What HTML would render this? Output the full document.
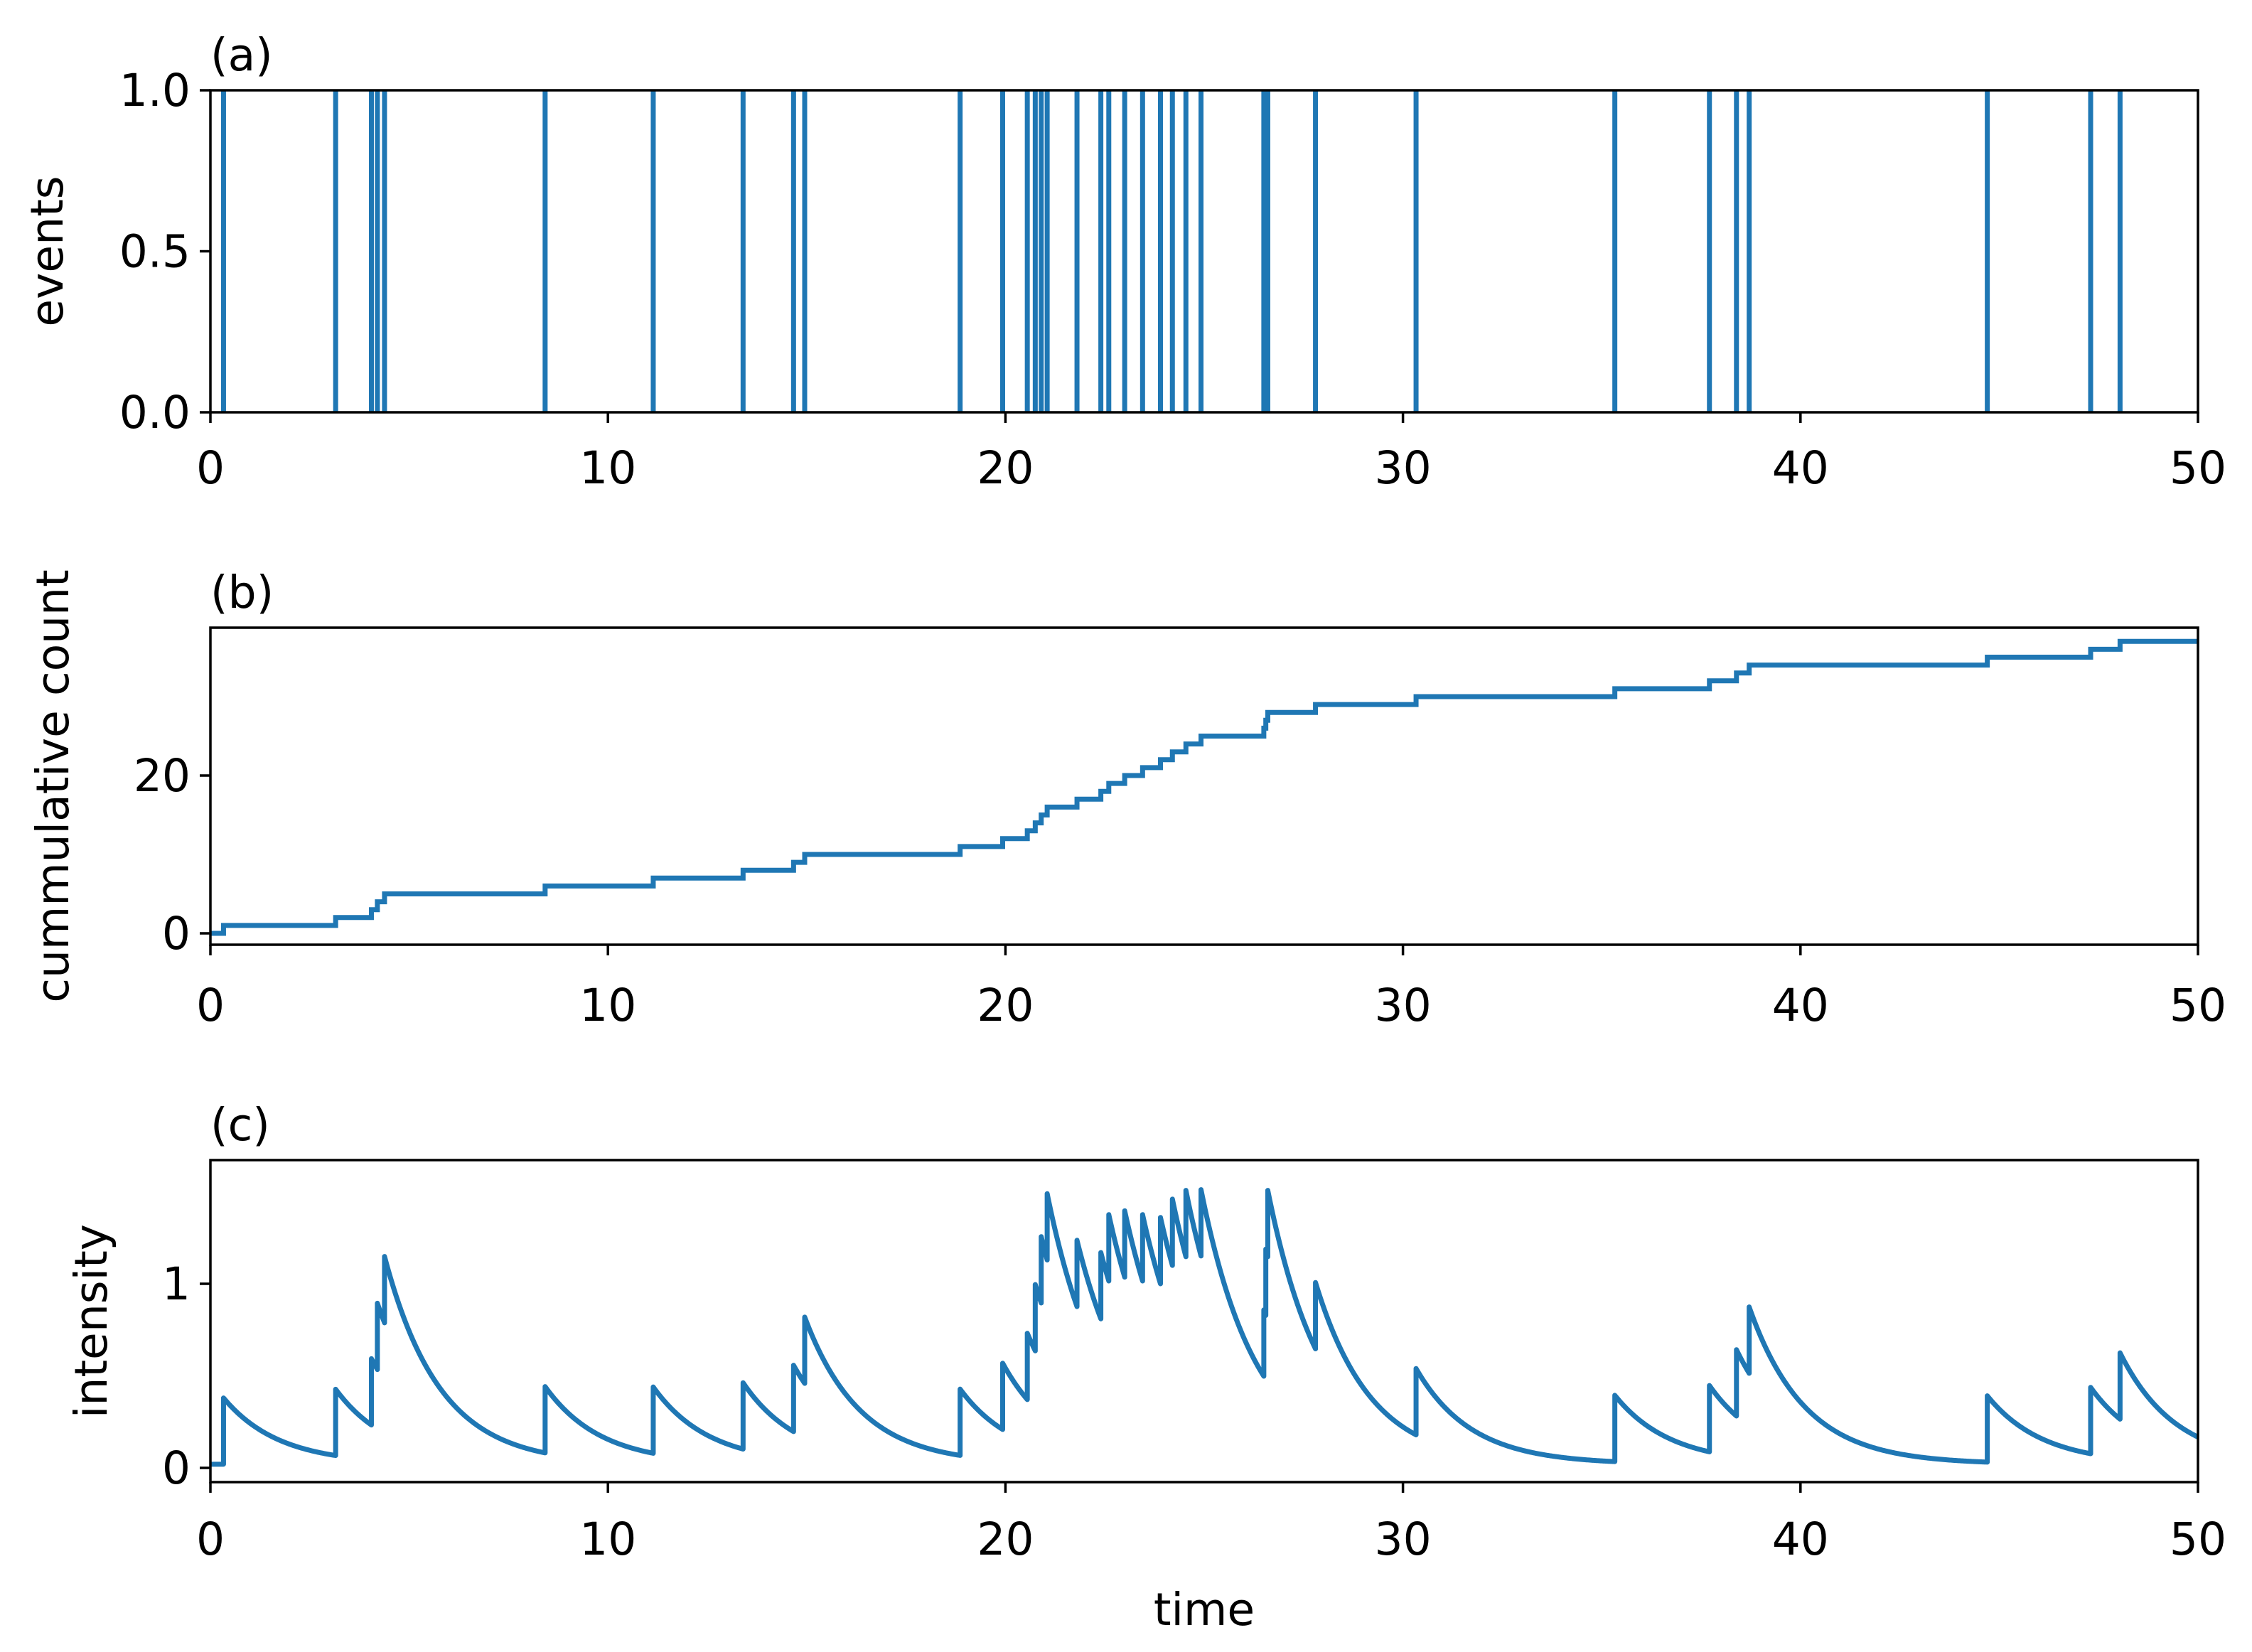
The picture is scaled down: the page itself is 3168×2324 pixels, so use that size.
<!DOCTYPE html>
<html><head><meta charset="utf-8"><style>
html,body{margin:0;padding:0;background:#fff;}
svg{display:block;font-family:"DejaVu Sans","Liberation Sans",sans-serif;}
</style></head><body>
<svg id="fig" width="3168" height="2324" viewBox="0 0 3168 2324" xmlns="http://www.w3.org/2000/svg"></svg>
<script>
const eventTimes = [0.33,3.15,4.05,4.2,4.38,8.42,11.14,13.4,14.67,14.95,18.86,19.93,20.55,20.75,20.9,21.05,21.8,22.4,22.6,23.0,23.45,23.9,24.2,24.54,24.92,26.5,26.55,26.6,27.8,30.33,35.33,37.71,38.39,38.71,44.7,47.3,48.04];
const xTicks = [0,10,20,30,40,50];
const aTicks = ["0.0","0.5","1.0"];
const aTickVals = [0,0.5,1];
const bTickVals = [0,20];
const cTickVals = [0,1];
const hawkesParams = [0.02,0.36,0.72]; // mu, alpha, beta

const NS="http://www.w3.org/2000/svg";
const svg=document.getElementById('fig');
function el(tag,attrs,parent){const e=document.createElementNS(NS,tag);for(const k in attrs)e.setAttribute(k,attrs[k]);(parent||svg).appendChild(e);return e;}
const X0=296,X1=3092;
const xs=t=>X0+(t/50)*(X1-X0);
const BLUE="#1f77b4";
const FS=63;

function panel(name,top,bot,ymin,ymax,ticks,tickLabels,ylabel,ylabelX,letter,xlabelY){
  const g=el('g',{});
  
  
  const ys=v=>bot-(v-ymin)/(ymax-ymin)*(bot-top);
  const clipId='clip-'+name;
  const cp=el('clipPath',{id:clipId},g);el('rect',{x:X0,y:top,width:X1-X0,height:bot-top},cp);
  const plot=el('g',{'clip-path':'url(#'+clipId+')'},g);
  
  
  xTicks.forEach(v=>{
    el('line',{x1:xs(v),x2:xs(v),y1:bot,y2:bot+15,stroke:'#000','stroke-width':3.5},g);
    const t=el('text',{x:xs(v),y:xlabelY,'font-size':FS,'text-anchor':'middle',fill:'#000'},g);
    
    
    t.textContent=v;
  });
  ticks.forEach((v,i)=>{
    el('line',{x1:X0-15,x2:X0,y1:ys(v),y2:ys(v),stroke:'#000','stroke-width':3.5},g);
    const t=el('text',{x:X0-28,y:ys(v)+22,'font-size':FS,'text-anchor':'end',fill:'#000'},g);
    
    
    t.textContent=tickLabels[i];
  });
  const yl=el('text',{x:ylabelX,y:(top+bot)/2,'font-size':FS,'text-anchor':'middle',fill:'#000',transform:`rotate(-90 ${ylabelX} ${(top+bot)/2})`},g);
  
  
  yl.textContent=ylabel;
  const lt=el('text',{x:X0,y:top-28,'font-size':FS,fill:'#000'},g);
  
  
  lt.textContent=letter;
  return {g,plot,ys,frame:()=>{const r=el('rect',{x:X0,y:top,width:X1-X0,height:bot-top,fill:'none',stroke:'#000','stroke-width':3.5},g);}};
}

// Panel a
const pa=panel('events-panel',127,580,0,1,aTickVals,aTicks,'events',88,'(a)',680);
eventTimes.forEach(t=>{
  const l=el('line',{x1:xs(t),x2:xs(t),y1:pa.ys(0),y2:pa.ys(1),stroke:BLUE,'stroke-width':7},pa.plot);
  
  
});
pa.frame();

// Panel b
const bTop=883,bBot=1329;
const b0=1313,b20=1091;const per=(b0-b20)/20;
const bymin=-(bBot-b0)/per, bymax=(b0-bTop)/per;
const pb=panel('cumulative-panel',bTop,bBot,bymin,bymax,bTickVals,bTickVals.map(String),'cummulative count',96,'(b)',1436);
let d=`M${xs(0)},${pb.ys(0)}`;
eventTimes.forEach((t,i)=>{d+=` L${xs(t)},${pb.ys(i)} L${xs(t)},${pb.ys(i+1)}`;});
d+=` L${xs(50)},${pb.ys(eventTimes.length)}`;
const cl=el('path',{d,fill:'none',stroke:BLUE,'stroke-width':7},pb.plot);


pb.frame();

// Panel c
const cTop=1632,cBot=2085,c0=2065,c1=1806;const pc1=c0-c1;
const cymin=-(cBot-c0)/pc1, cymax=(c0-cTop)/pc1;
const pc=panel('intensity-panel',cTop,cBot,cymin,cymax,cTickVals,cTickVals.map(String),'intensity',150,'(c)',2187);
const [mu,alpha,beta]=hawkesParams;
function lam(t,incl){let s=mu;for(const e of eventTimes){if(e<t||(incl&&e===t))s+=alpha*Math.exp(-beta*(t-e));}return s;}
const tgrid=[];for(let i=0;i<=2000;i++)tgrid.push(i*50/2000);
eventTimes.forEach(e=>{tgrid.push(e);});
tgrid.sort((a,b)=>a-b);
let dc='';
tgrid.forEach(t=>{
  const isEv=eventTimes.includes(t);
  dc+=(dc?' L':'M')+xs(t)+','+pc.ys(lam(t,false));
  if(isEv)dc+=' L'+xs(t)+','+pc.ys(lam(t,true));
});
const il=el('path',{d:dc,fill:'none',stroke:BLUE,'stroke-width':7,'stroke-linejoin':'round'},pc.plot);


pc.frame();
const xt=el('text',{x:(X0+X1)/2,y:2286,'font-size':FS,'text-anchor':'middle',fill:'#000'});


xt.textContent='time';
</script>
</body></html>
